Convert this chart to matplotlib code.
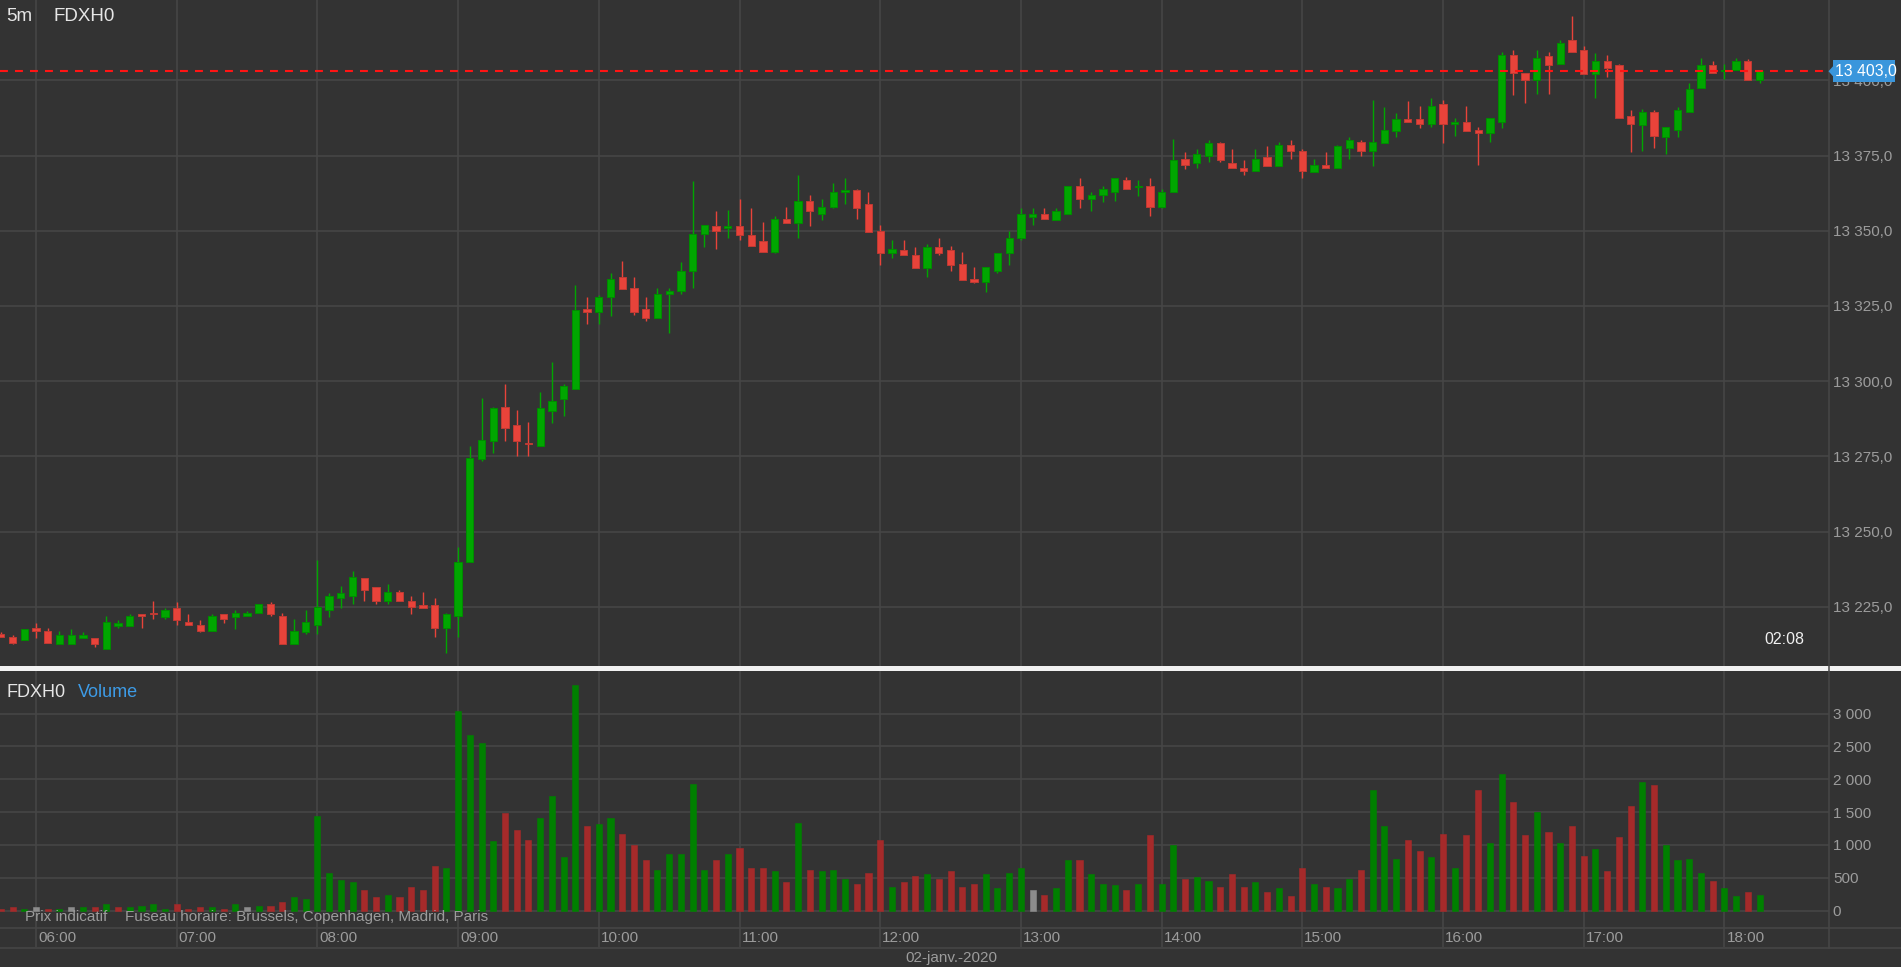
import matplotlib
matplotlib.use("Agg")
import matplotlib.pyplot as plt
from matplotlib.patches import Rectangle, Polygon
from matplotlib.lines import Line2D
import numpy as np
import pandas as pd

plt.rcParams['font.family'] = ['Liberation Sans', 'DejaVu Sans']

# ---- data (5 minute bars, 02-01-2020) ----
first_bar = "2020-01-02 05:45"

opens = [
    13216.0, 13215.0, 13214.0, 13218.0, 13217.0, 13212.5, 13212.5, 13214.5, 13214.5, 13211.0,
    13218.5, 13218.5, 13222.5, 13223.0, 13221.5, 13224.5, 13220.0, 13219.0, 13217.0, 13222.5,
    13221.5, 13222.0, 13223.0, 13226.0, 13222.0, 13212.5, 13216.5, 13219.0, 13224.0, 13228.0,
    13228.5, 13234.5, 13231.5, 13227.0, 13230.0, 13227.0, 13225.5, 13225.5, 13218.0, 13222.0,
    13240.0, 13274.0, 13280.0, 13291.5, 13285.5, 13279.5, 13278.5, 13290.0, 13294.0, 13297.5,
    13324.0, 13323.0, 13328.0, 13334.5, 13331.0, 13324.0, 13321.0, 13329.0, 13330.0, 13336.5,
    13349.0, 13351.5, 13351.0, 13351.5, 13348.5, 13346.5, 13343.0, 13354.0, 13352.5, 13360.0,
    13355.5, 13358.0, 13363.0, 13363.5, 13359.0, 13350.0, 13342.5, 13343.5, 13342.0, 13337.5,
    13344.5, 13343.5, 13339.0, 13334.0, 13333.0, 13336.5, 13342.5, 13347.5, 13354.5, 13355.5,
    13353.5, 13355.5, 13365.0, 13360.5, 13362.0, 13363.0, 13367.0, 13364.5, 13365.0, 13358.0,
    13363.0, 13374.0, 13372.5, 13375.0, 13379.0, 13372.5, 13371.0, 13370.0, 13374.5, 13371.5,
    13378.5, 13376.5, 13369.5, 13372.0, 13371.0, 13377.5, 13379.5, 13376.5, 13379.0, 13383.0,
    13387.0, 13387.0, 13385.5, 13392.0, 13385.5, 13386.0, 13383.5, 13382.5, 13386.0, 13408.5,
    13402.5, 13400.0, 13408.0, 13405.5, 13413.5, 13410.0, 13402.0, 13406.5, 13405.0, 13388.0,
    13385.0, 13389.5, 13381.0, 13383.5, 13389.5, 13397.5, 13405.0, 13403.0, 13403.5, 13406.5,
    13400.0]

highs = [
    13216.5, 13215.5, 13217.5, 13219.5, 13218.0, 13217.0, 13217.5, 13216.5, 13214.5, 13222.0,
    13220.5, 13222.5, 13222.5, 13227.0, 13224.5, 13226.5, 13222.5, 13220.5, 13222.5, 13222.5,
    13224.0, 13223.5, 13226.0, 13226.5, 13223.0, 13221.0, 13224.0, 13240.5, 13229.5, 13232.0,
    13237.0, 13234.5, 13231.5, 13232.5, 13230.5, 13228.5, 13230.0, 13228.0, 13223.0, 13245.0,
    13278.5, 13294.5, 13291.5, 13299.0, 13290.5, 13286.5, 13296.5, 13306.5, 13299.0, 13332.0,
    13328.0, 13328.5, 13336.0, 13340.0, 13334.5, 13328.0, 13331.0, 13331.0, 13339.5, 13366.5,
    13352.0, 13356.5, 13357.0, 13360.5, 13357.5, 13353.0, 13355.0, 13358.0, 13368.5, 13362.0,
    13360.5, 13366.0, 13367.5, 13364.0, 13363.0, 13352.0, 13347.0, 13347.0, 13344.5, 13345.5,
    13347.5, 13345.0, 13343.0, 13338.0, 13338.0, 13342.5, 13350.0, 13357.5, 13357.5, 13357.5,
    13357.5, 13365.0, 13367.5, 13363.0, 13365.0, 13367.5, 13368.0, 13367.0, 13367.5, 13364.0,
    13380.5, 13376.0, 13377.0, 13380.0, 13379.5, 13377.0, 13373.5, 13377.0, 13378.0, 13379.5,
    13380.0, 13377.0, 13374.0, 13376.0, 13378.5, 13381.0, 13380.0, 13393.5, 13391.0, 13389.0,
    13393.0, 13391.5, 13394.0, 13393.5, 13387.5, 13391.5, 13384.5, 13387.5, 13409.5, 13410.0,
    13402.5, 13410.0, 13409.5, 13413.5, 13421.5, 13411.5, 13409.0, 13408.5, 13405.5, 13390.0,
    13390.5, 13390.0, 13384.5, 13391.0, 13399.0, 13407.5, 13406.5, 13405.5, 13407.5, 13407.0,
    13403.5]

lows = [
    13215.0, 13212.5, 13214.0, 13214.5, 13213.0, 13212.5, 13212.5, 13214.5, 13211.5, 13211.0,
    13218.0, 13218.5, 13218.0, 13221.0, 13221.0, 13219.0, 13219.0, 13216.5, 13217.0, 13219.5,
    13217.5, 13222.0, 13223.0, 13222.0, 13212.5, 13212.5, 13216.0, 13216.0, 13221.5, 13224.5,
    13226.0, 13227.0, 13226.0, 13226.0, 13227.0, 13222.5, 13224.5, 13215.0, 13209.5, 13215.0,
    13240.0, 13273.5, 13276.0, 13280.0, 13275.0, 13275.0, 13278.5, 13286.0, 13288.5, 13297.5,
    13319.0, 13319.0, 13321.5, 13330.5, 13322.0, 13320.0, 13321.0, 13316.0, 13329.0, 13331.0,
    13344.5, 13344.0, 13347.5, 13347.0, 13345.0, 13343.0, 13342.5, 13352.5, 13347.5, 13351.5,
    13353.5, 13357.5, 13359.0, 13354.0, 13349.5, 13338.5, 13341.0, 13342.0, 13337.5, 13334.5,
    13342.0, 13336.5, 13333.5, 13332.5, 13329.5, 13336.0, 13338.5, 13347.0, 13352.0, 13354.0,
    13353.5, 13355.5, 13357.5, 13356.5, 13359.5, 13360.0, 13364.0, 13361.5, 13355.0, 13357.5,
    13363.0, 13370.5, 13371.0, 13373.0, 13373.0, 13371.0, 13368.5, 13370.0, 13371.5, 13371.5,
    13374.0, 13367.5, 13369.5, 13371.0, 13371.0, 13374.0, 13375.0, 13371.5, 13379.0, 13381.0,
    13386.0, 13384.0, 13384.5, 13379.0, 13381.5, 13383.0, 13372.0, 13379.5, 13384.0, 13395.0,
    13392.5, 13395.5, 13395.5, 13405.5, 13409.5, 13402.0, 13394.0, 13401.0, 13387.5, 13376.0,
    13376.5, 13377.5, 13375.5, 13381.0, 13389.5, 13397.5, 13402.5, 13400.5, 13403.5, 13400.0,
    13399.0]

closes = [
    13215.0, 13213.0, 13217.5, 13217.0, 13213.0, 13215.5, 13215.5, 13215.5, 13212.5, 13220.0,
    13219.5, 13222.0, 13222.0, 13222.5, 13224.0, 13220.5, 13219.0, 13217.0, 13222.0, 13221.0,
    13223.0, 13223.0, 13226.0, 13222.5, 13212.5, 13217.0, 13220.0, 13225.0, 13228.5, 13229.5,
    13235.0, 13230.5, 13227.0, 13230.0, 13227.0, 13225.0, 13224.5, 13218.0, 13222.5, 13240.0,
    13274.5, 13280.5, 13291.0, 13284.5, 13280.0, 13279.0, 13291.0, 13293.5, 13298.5, 13323.5,
    13323.0, 13328.0, 13334.0, 13330.5, 13323.0, 13321.0, 13329.0, 13330.0, 13336.5, 13349.0,
    13352.0, 13350.0, 13351.5, 13348.5, 13345.0, 13343.0, 13354.0, 13352.5, 13360.0, 13356.5,
    13358.0, 13363.0, 13363.5, 13357.5, 13349.5, 13342.5, 13344.0, 13342.0, 13337.5, 13344.5,
    13342.5, 13338.5, 13333.5, 13333.0, 13338.0, 13342.5, 13347.5, 13355.5, 13355.5, 13354.0,
    13356.5, 13365.0, 13360.5, 13362.0, 13364.0, 13367.5, 13364.0, 13365.0, 13358.0, 13363.0,
    13373.5, 13372.0, 13375.5, 13379.0, 13373.5, 13371.0, 13370.0, 13374.0, 13371.5, 13378.5,
    13376.5, 13370.0, 13372.0, 13371.0, 13378.0, 13380.0, 13376.5, 13379.5, 13383.5, 13387.0,
    13386.0, 13385.5, 13391.5, 13385.5, 13386.0, 13383.0, 13382.5, 13387.5, 13408.5, 13402.5,
    13400.0, 13407.5, 13405.0, 13412.5, 13409.5, 13402.0, 13406.5, 13404.0, 13387.5, 13385.5,
    13389.5, 13381.5, 13384.5, 13390.0, 13397.0, 13405.0, 13402.5, 13403.5, 13406.5, 13400.0,
    13403.0]

volumes = [
    30, 50, 30, 50, 30, 30, 50, 50, 50, 97,
    50, 50, 76, 97, 30, 97, 30, 50, 50, 30,
    97, 50, 76, 76, 127, 213, 173, 1434, 575, 458,
    432, 315, 198, 239, 198, 361, 310, 671, 646, 3031,
    2675, 2553, 1053, 1485, 1221, 1073, 1409, 1745, 814, 3438,
    1292, 1312, 1404, 1170, 1002, 763, 620, 860, 860, 1933,
    620, 763, 860, 951, 641, 641, 595, 427, 1338, 620,
    595, 620, 478, 407, 575, 1073, 356, 427, 524, 549,
    478, 595, 356, 407, 549, 336, 575, 641, 310, 239,
    336, 763, 763, 549, 407, 381, 310, 407, 1144, 407,
    1002, 478, 504, 453, 356, 549, 356, 427, 285, 336,
    214, 641, 407, 356, 336, 478, 620, 1836, 1287, 788,
    1073, 905, 809, 1170, 641, 1144, 1836, 1022, 2075, 1648,
    1144, 1505, 1190, 1022, 1287, 834, 931, 595, 1119, 1597,
    1953, 1907, 1002, 763, 788, 575, 453, 336, 214, 285,
    239]

# volume bar direction vs previous close: g = up, r = down, n = unchanged
vol_dir = ("rrgnrgngrg" "rggggrrrgr" "gngrrggggg" "grrgrrrrgg" "gggrrrgggg"
           "rggrrrgggg" "grgrrrgrgr" "gggrrrgrrg" "rrrrggggnr" "ggrgggrgrg"
           "grggrrrgrg" "rrgrggrggg" "rrgrgrrggr" "rgrgrrgrrr" "grggggrggr" "g")

price_ticks = [13225, 13250, 13275, 13300, 13325, 13350, 13375, 13400]
volume_ticks = [0, 500, 1000, 1500, 2000, 2500, 3000]
symbol = "FDXH0"
timeframe = "5m"
date_label = "02-janv.-2020"
countdown = "02:08"
footer_left = "Prix indicatif"
footer_tz = "Fuseau horaire: Brussels, Copenhagen, Madrid, Paris"

# ---- look ----
W, H = 1901, 967
BG = "#333333"
GRID = "#474747"
TXT = "#9c9c9c"
UP, UP_EDGE = "#00a600", "#008c00"
DN, DN_EDGE = "#e8433a", "#bf3a33"
VOL = {"g": "#008000", "r": "#a52a2a", "n": "#8c8c8c"}
BLUE = "#3a96dc"

def frac(x0, y0, x1, y1):
    # pixel box (top-left origin) -> figure fraction rect
    return [x0 / W, 1 - y1 / H, (x1 - x0) / W, (y1 - y0) / H]

o = np.array(opens); h = np.array(highs); l = np.array(lows); c = np.array(closes)
n = len(c)
x = np.arange(n)
times = pd.date_range(first_bar, periods=n, freq="5min")
hour_pos = [i for i, t in enumerate(times) if t.minute == 0]
hour_lab = [times[i].strftime("%H:%M") for i in hour_pos]

px_per_bar = 11.725
right_px = 1828.7
xmin = hour_pos[0] - 36 / px_per_bar
xmax = hour_pos[0] + (right_px - 36) / px_per_bar

fig = plt.figure(figsize=(W / 100, H / 100), dpi=100, facecolor=BG)

ax = fig.add_axes(frac(0, 0, right_px, 666))
axv = fig.add_axes(frac(0, 670, right_px, 927))
axt = fig.add_axes(frac(0, 927, right_px, 947))

for a in (ax, axv, axt):
    a.set_facecolor(BG)
    for s in a.spines.values():
        s.set_visible(False)
    a.set_xlim(xmin, xmax)
    a.set_xticks(hour_pos)
    a.tick_params(axis="x", length=0, labelbottom=False)
    a.grid(True, axis="x", color=GRID, linewidth=1.1)
    a.set_axisbelow(True)

def fmt_price(v):
    return f"{v:,.1f}".replace(",", " ").replace(".", ",")

# price panel: 13400 sits at y=80.3 px, 13225 at y=606.7 px
ppu = (606.7 - 80.3) / 175
ax.set_ylim(13225 - (666 - 606.7) / ppu, 13400 + 80.3 / ppu)
ax.yaxis.tick_right()
ax.set_yticks(price_ticks)
ax.set_yticklabels([fmt_price(v) for v in price_ticks])
ax.tick_params(axis="y", length=0, pad=3, labelcolor=TXT, labelsize=11)
ax.grid(True, axis="y", color=GRID, linewidth=1.1)

up = c >= o
col = np.where(up, UP, DN)
edge = np.where(up, UP_EDGE, DN_EDGE)
ax.vlines(x, l, h, colors=col, linewidth=1.0, zorder=2)
body_lo = np.minimum(o, c)
body_h = np.maximum(np.abs(c - o), 0.35)
ax.bar(x, body_h, 0.62, bottom=body_lo, color=col, edgecolor=edge,
       linewidth=0.7, zorder=3)

last = c[-1]
ax.axhline(last, color="#ff1414", linewidth=1.5, linestyle=(0, (3.8, 3.4)), zorder=4)

# volume panel: 0 at y=910.5 px, 3000 at y=713.5 px
vpu = (910.5 - 713.5) / 3000
axv.set_ylim(-(927 - 910.5) / vpu, 3000 + (713.5 - 670) / vpu)
axv.yaxis.tick_right()
axv.set_yticks(volume_ticks)
axv.set_yticklabels([f"{v:,}".replace(",", " ") for v in volume_ticks])
axv.tick_params(axis="y", length=0, pad=3, labelcolor=TXT, labelsize=11)
axv.grid(True, axis="y", color=GRID, linewidth=1.1)
vcol = [VOL[d] for d in vol_dir]
axv.bar(x, volumes, 0.52, color=vcol, edgecolor=vcol, linewidth=0.4, zorder=3)

# time row
axt.set_ylim(0, 1)
axt.set_yticks([])
for p, lab in zip(hour_pos, hour_lab):
    axt.text(p + 2 / px_per_bar, 0.45, lab, color=TXT, fontsize=11,
             ha="left", va="center")

# ---- figure level texts ----
def ftext(px, py, s, **kw):
    fig.text(px / W, 1 - py / H, s, **kw)

ftext(6, 16.5, timeframe, color="#e6e6e6", fontsize=13.5, va="center")
ftext(53, 16.5, symbol, color="#e6e6e6", fontsize=13.5, va="center")
ftext(7, 692.7, symbol, color="#e6e6e6", fontsize=13, va="center")
ftext(77.5, 692.7, "Volume", color="#3d9be6", fontsize=13, va="center")
ftext(1804, 639, countdown, color="#f0f0f0", fontsize=11.5, va="center", ha="right")
ftext(24.5, 917, footer_left, color=TXT, fontsize=11, va="center")
ftext(125, 917, footer_tz, color=TXT, fontsize=11, va="center")
ftext(951.6, 958, date_label, color=TXT, fontsize=11, va="center", ha="center")

# panel separator, row lines, right border
fig.add_artist(Rectangle((0, 1 - 670.5 / H), 1, 4.5 / H, transform=fig.transFigure,
                         facecolor="#f2f2f2", edgecolor="none", zorder=4))
for yy in (927.5, 947.5):
    fig.add_artist(Line2D([0, 1], [1 - yy / H] * 2, transform=fig.transFigure,
                          color=GRID, linewidth=1.1, zorder=4))
fig.add_artist(Line2D([right_px / W] * 2, [1 - 947.5 / H, 1], transform=fig.transFigure,
                      color=GRID, linewidth=1.1, zorder=4))

# current price tag (covers the 13 400,0 label, as in the original)
yt = H - ax.transData.transform((0, last))[1]
fig.add_artist(Rectangle((1832.7 / W, 1 - (yt + 10.8) / H), 62.3 / W, 21.6 / H,
                         transform=fig.transFigure, facecolor=BLUE,
                         edgecolor="none", zorder=6))
fig.add_artist(Polygon([[1828.5 / W, 1 - yt / H], [1833 / W, 1 - (yt - 5) / H],
                        [1833 / W, 1 - (yt + 5) / H]], closed=True,
                       transform=fig.transFigure, facecolor=BLUE,
                       edgecolor="none", zorder=6))
fig.text(1834.5 / W, 1 - yt / H, fmt_price(last), color="white", fontsize=11.3,
         va="center", ha="left", zorder=7)

fig.savefig("out.png", dpi=100, facecolor=BG)
